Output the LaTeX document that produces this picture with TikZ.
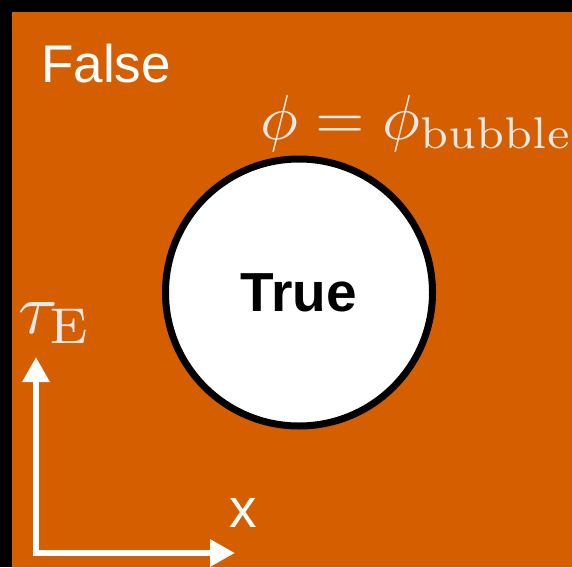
\documentclass[tikz,border=0pt]{standalone}
\usepackage{fontspec}
\newfontfamily\helv{Liberation Sans}
\usetikzlibrary{arrows.meta}
\definecolor{vermil}{RGB}{213,94,0}
\definecolor{paleg}{RGB}{232,232,232}

\begin{document}
\begin{tikzpicture}[x=1pt, y=-1pt,
    axis/.style={white, line width=6pt, {Triangle[length=25pt,width=26pt]}-{Triangle[length=25pt,width=26pt]}},
    mathlbl/.style={text=paleg, inner sep=0pt, anchor=base west}]
            % ==== BACKGROUND ====
            \useasboundingbox (0,0) rectangle (572,567);
            \fill[black] (0,0) rectangle (572,567);
            \fill[vermil] (12,12) rectangle (572,567);
            % ==== BUBBLE ====
            \node[circle, draw=black, fill=white, line width=7pt, minimum size=267pt, inner sep=0pt,
                font=\helv\bfseries\fontsize{55}{60}\selectfont] (bubble) at (299,292.5) {True};
            \node[text=white, inner sep=0pt, anchor=base west, font=\helv\fontsize{53}{60}\selectfont]
                (false) at (41,83) {False};
            \node[mathlbl, scale=6.35] (wall) at (259,139) {$\phi=\phi_{\mathrm{bubble}}$};
            % ==== AXES ====
            \coordinate (orig) at (36,553);
            \coordinate (tend) at (36,357);
            \coordinate (xend) at (235,553);
            \draw[axis] (tend) -- (orig) -- (xend);
            \node[mathlbl, scale=7.2] (tlbl) at (17,333) {$\tau_{\mathrm{E}}$};
            \node[text=white, inner sep=0pt, anchor=base, font=\helv\fontsize{55}{60}\selectfont]
                (xlbl) at (243,527) {x};
         \end{tikzpicture}
\end{document}
